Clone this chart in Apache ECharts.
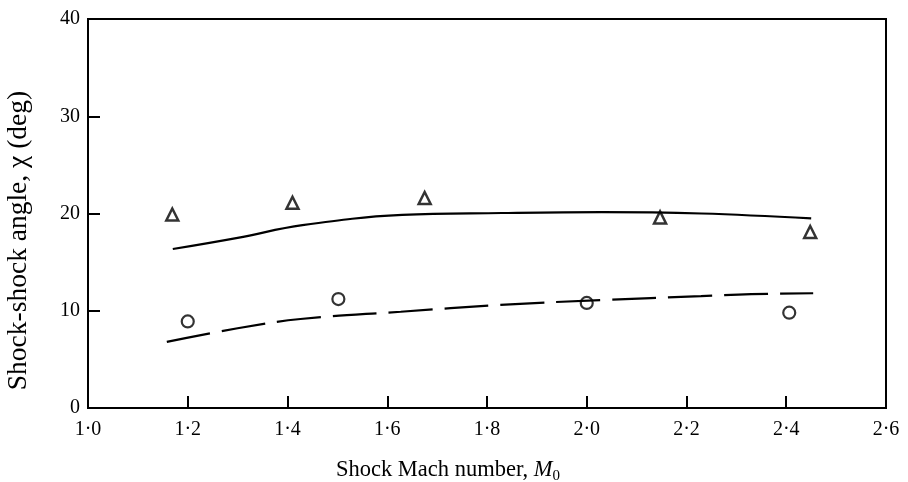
<!DOCTYPE html>
<html>
<head>
<meta charset="utf-8">
<script src="https://cdn.jsdelivr.net/npm/echarts@6/dist/echarts.min.js"></script>
<style>
  html, body { margin: 0; padding: 0; background: #fff; }
  #chart { width: 908px; height: 482px; }
</style>
</head>
<body>
<div id="chart"></div>
<script>
// --- data ---
const xTicks = [1.0, 1.2, 1.4, 1.6, 1.8, 2.0, 2.2, 2.4, 2.6]
const yTicks = [0, 10, 20, 30, 40]

// triangles (measured)
const triMach = [1.169, 1.41, 1.675, 2.147, 2.448]
const triAngle = [19.9, 21.1, 21.6, 19.6, 18.1]

// circles (measured)
const circMach = [1.2, 1.502, 2.0, 2.406]
const circAngle = [8.9, 11.2, 10.8, 9.8]

// solid curve
const solidMach = [1.17, 1.3, 1.43, 1.63, 1.83, 2.03, 2.23, 2.45]
const solidAngle = [16.35, 17.5, 18.8, 19.85, 20.05, 20.15, 20.0, 19.5]

// dashed curve
const dashMach = [1.158, 1.3, 1.426, 1.627, 1.827, 2.028, 2.229, 2.33, 2.454]
const dashAngle = [6.8, 8.2, 9.15, 9.9, 10.6, 11.1, 11.5, 11.7, 11.8]

const zip = (a, b) => a.map((v, i) => [v, b[i]])
const font = '"Liberation Serif", "DejaVu Serif", serif'
const ink = '#000'

const chart = echarts.init(document.getElementById('chart'))

const option = {
  backgroundColor: '#fff',
  animation: false,
  grid: {
    left: 88, right: 22, top: 19, bottom: 74,
    outerBoundsMode: 'none', containLabel: false,
    show: true, borderColor: ink, borderWidth: 2
  },
  xAxis: {
    type: 'value',
    min: xTicks[0], max: xTicks[xTicks.length - 1], interval: 0.2,
    axisLine: { lineStyle: { color: ink, width: 2 } },
    axisTick: { inside: true, length: 12, lineStyle: { color: ink, width: 2 } },
    splitLine: { show: false },
    axisLabel: {
      margin: 12, color: ink, fontFamily: font, fontSize: 20,
      formatter: v => v.toFixed(1).replace('.', '·')
    },
    name: '{n|Shock Mach number, }{i|M}{s|0}',
    nameLocation: 'middle', nameGap: 49,
    nameTextStyle: {
      padding: [0, 78, 0, 0],
      rich: {
        n: { fontFamily: font, fontSize: 22.5, color: ink, lineHeight: 27 },
        i: { fontFamily: font, fontSize: 22.5, fontStyle: 'italic', color: ink, lineHeight: 27 },
        s: { fontFamily: font, fontSize: 15, color: ink, lineHeight: 27, verticalAlign: 'bottom', padding: [8, 0, 0, 0] }
      }
    }
  },
  yAxis: {
    type: 'value',
    min: yTicks[0], max: yTicks[yTicks.length - 1], interval: 10,
    axisLine: { lineStyle: { color: ink, width: 2 } },
    axisTick: { inside: true, length: 12, lineStyle: { color: ink, width: 2 } },
    splitLine: { show: false },
    axisLabel: { margin: 8, color: ink, fontFamily: font, fontSize: 20 },
    name: 'Shock-shock angle, χ (deg)',
    nameLocation: 'middle', nameGap: 55,
    nameTextStyle: {
      fontFamily: font, fontSize: 27.5, color: ink,
      padding: [0, 54, 0, 0]
    }
  },
  series: [
    {
      name: 'solid', type: 'line', data: zip(solidMach, solidAngle),
      smooth: 0.4, showSymbol: false, silent: true,
      lineStyle: { color: ink, width: 2.2 }
    },
    {
      name: 'dashed', type: 'line', data: zip(dashMach, dashAngle),
      smooth: 0.4, showSymbol: false, silent: true,
      lineStyle: { color: ink, width: 2.2, type: [44, 12] }
    },
    {
      name: 'triangles', type: 'scatter', data: zip(triMach, triAngle),
      symbol: 'triangle', symbolSize: 12,
      itemStyle: { color: '#fff', borderColor: ink, borderWidth: 2.5 }
    },
    {
      name: 'circles', type: 'scatter', data: zip(circMach, circAngle),
      symbol: 'circle', symbolSize: 12,
      itemStyle: { color: '#fff', borderColor: ink, borderWidth: 2.2 }
    }
  ]
}

chart.setOption(option)
</script>
</body>
</html>
